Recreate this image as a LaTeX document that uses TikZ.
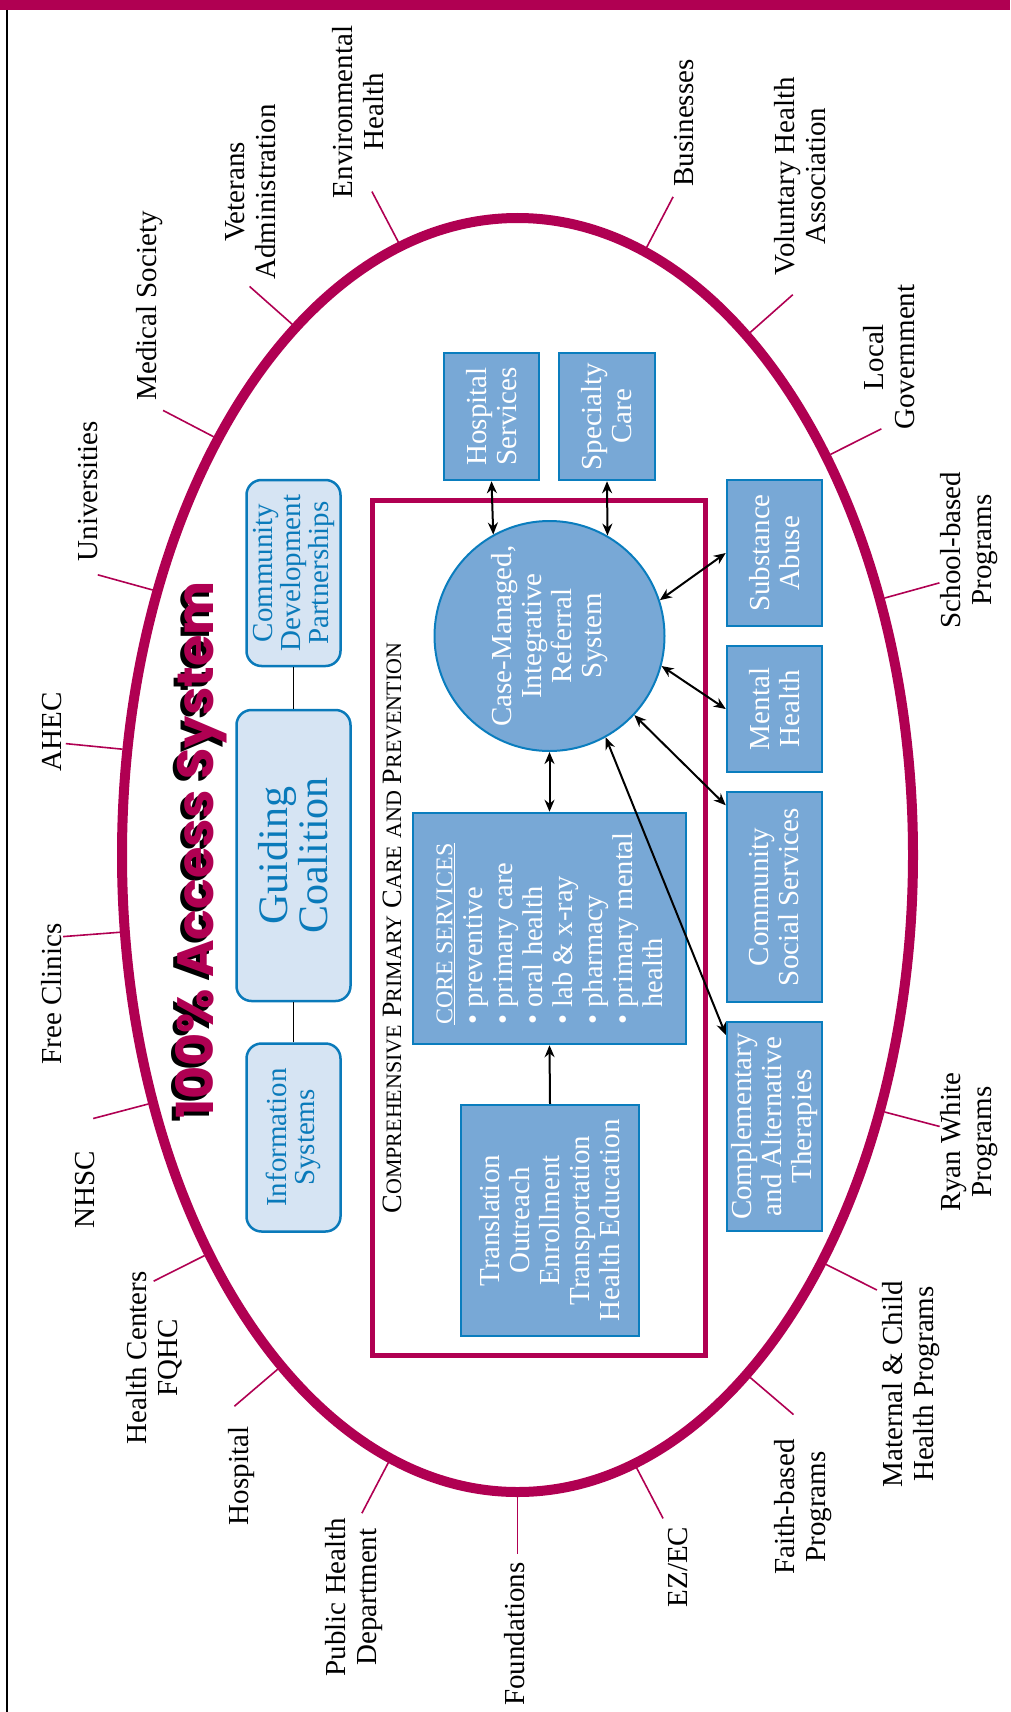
\documentclass[tikz,border=0pt]{standalone}
\usepackage{fontspec}
\setmainfont{Liberation Serif}
\newfontfamily\titlefont{Poppins}
\usetikzlibrary{arrows.meta,shapes.geometric}
\definecolor{accent}{RGB}{176,0,82}
\definecolor{boxfill}{RGB}{120,168,214}
\definecolor{boxline}{RGB}{10,125,190}
\definecolor{lightfill}{RGB}{214,228,243}
\definecolor{lightline}{RGB}{10,122,186}
% fake small caps: big letter, then the rest smaller
\newcommand\fsc[2]{#1{\fontsize{22}{22}\selectfont #2}}
\begin{document}
\begin{tikzpicture}[x=1pt,y=-1pt,
	ring/.style={ellipse,draw=accent,line width=10pt,minimum width=791pt,minimum height=1274pt,inner sep=0pt},
	tick/.style={draw=accent,line width=1.6pt},
	outer/.style={rotate=90,align=center,inner sep=0pt,font=\fontsize{29}{31}\selectfont},
	bbox/.style={rotate=90,draw=boxline,fill=boxfill,line width=2.5pt,text=white,align=center,inner sep=2pt,font=\fontsize{29}{30}\selectfont},
	lbox/.style={rotate=90,draw=lightline,fill=lightfill,line width=2.5pt,rounded corners=15pt,text=lightline,align=center,inner sep=2pt,font=\fontsize{29}{28}\selectfont},
	ttl/.style={rotate=90,inner sep=0pt,font=\titlefont\bfseries\fontsize{51}{51}\selectfont},
	link/.style={draw=black,line width=1.5pt},
	dbl/.style={{Stealth[length=12pt,width=10pt]}-{Stealth[length=12pt,width=10pt]},line width=2pt},
	one/.style={-{Stealth[length=12pt,width=10pt]},line width=2pt}]
	\useasboundingbox (0,0) rectangle (1010,1712);
	\fill[accent] (0,0) rectangle (1010,10);
	\draw[line width=1.5pt] (7,10) -- (7,1712);

	\node[ring] (ring) at (517.5,855) {};
	\foreach \t/\lx/\ly/\txt [count=\i] in {
			108/358/112/{Environmental\\Health},
			125/251/192/{Veterans\\Administration},
			140/150/306/{Medical Society},
			156/88/491/{Universities},
			171/52/732/{AHEC},
			187/52/994/{Free Clinics},
			203/85/1190/{NHSC},
			219/154/1358/{Health Centers\\FQHC},
			234/242/1476/{Hospital},
			252/354/1597/{Public Health\\Department},
			270/515/1634/{Foundations},
			288/678/1567/{EZ/EC},
			306/803/1507/{Faith-based\\Programs},
			321/911/1384/{Maternal \& Child\\Health Programs},
			337/969/1142/{Ryan White\\Programs},
			24/969/550/{School-based\\Programs},
			39/889/357/{Local\\Government},
			55/800/176/{Voluntary Health\\Association},
			72/684/123/{Businesses}}{
		\pgfmathsetmacro\p{mod(atan2(sin(\t),0.6209*cos(\t))+360,360)}
		\pgfmathsetmacro\nl{veclen(cos(\t),0.6209*sin(\t))}
		\draw[tick] (ring.\p) -- ++({57*cos(\t)/\nl},{-57*0.6209*sin(\t)/\nl}) coordinate (e\i);
		\node[outer] (o\i) at (\lx,\ly) {\txt};
	}

	\node[ttl,text=black] (shadow) at (197,854) {100\% Access System};
	\node[ttl,text=accent] (title) at (201,850) {100\% Access System};

	\node[lbox,minimum width=186pt,minimum height=94pt] (cdp) at (293.5,573) {Community\\Development\\Partnerships};
	\node[lbox,minimum width=291pt,minimum height=114pt,font=\fontsize{42}{40}\selectfont] (guide) at (293.5,855.5) {Guiding\\Coalition};
	\node[lbox,minimum width=188pt,minimum height=94pt] (info) at (293.5,1137.5) {Information\\Systems};
	\draw[link] (info) -- (guide);
	\draw[link] (guide) -- (cdp);

	\node[draw=accent,line width=5pt,minimum width=333pt,minimum height=854.5pt] (cpc) at (539,927.75) {};
	\node[rotate=90,font=\fontsize{28}{28}\selectfont] (cpctitle) at (392,928)
		{\fsc{C}{OMPREHENSIVE} \fsc{P}{RIMARY} \fsc{C}{ARE} \fsc{}{AND} \fsc{P}{REVENTION}};

	\node[bbox,circle,line width=2pt,minimum size=230pt] (crs) at (549.5,636) {Case-Managed,\\Integrative\\Referral\\System};
	\node[bbox,minimum width=127pt,minimum height=95pt] (hosp) at (491.5,416.5) {Hospital\\Services};
	\node[bbox,minimum width=127pt,minimum height=96pt] (spec) at (607,416.5) {Specialty\\Care};
	\node[bbox,minimum width=146pt,minimum height=95pt] (sub) at (774.5,553) {Substance\\Abuse};
	\node[bbox,minimum width=126pt,minimum height=95pt] (mh) at (774.5,709) {Mental\\Health};
	\node[bbox,minimum width=210pt,minimum height=95pt] (css) at (774.5,897) {Community\\Social Services};
	\node[bbox,minimum width=209pt,minimum height=95pt] (cat) at (774.5,1126.5) {Complementary\\and Alternative\\Therapies};
	\node[bbox,align=left,minimum width=231pt,minimum height=273pt,font=\fontsize{28.5}{30}\selectfont] (core) at (549.5,928.5)
		{{\fontsize{24}{30}\selectfont\underline{CORE SERVICES}}\\
		\textbullet\ preventive\\
		\textbullet\ primary care\\
		\textbullet\ oral health\\
		\textbullet\ lab \& x-ray\\
		\textbullet\ pharmacy\\
		\textbullet\ primary mental\\
		\phantom{\textbullet\ }health};
	\node[bbox,minimum width=231pt,minimum height=178pt] (trans) at (550,1220.5)
		{Translation\\Outreach\\Enrollment\\Transportation\\Health Education};

	\draw[dbl] (hosp.west) -- (crs.29);
	\draw[dbl] (spec.west) -- (crs.330);
	\draw[dbl] (crs.288.7) -- (sub.north);
	\draw[dbl] (crs.255.5) -- (mh.north);
	\draw[dbl] (crs.227.8) -- (css.28.6);
	\draw[dbl] (crs.209.6) -- (cat.28);
	\draw[dbl] (crs.west) -- (core.east);
	\draw[one] (trans.east) -- (core.west);
\end{tikzpicture}
\end{document}
